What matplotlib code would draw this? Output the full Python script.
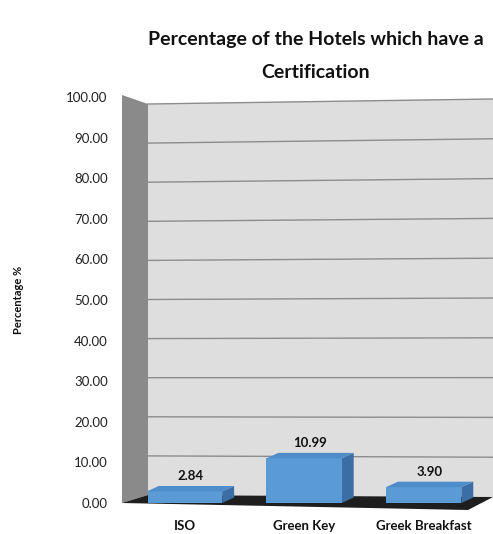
import matplotlib
matplotlib.use('Agg')
import matplotlib.pyplot as plt
from matplotlib.patches import Polygon

plt.rcParams['font.family'] = ['Lato', 'DejaVu Sans']

# data
categories = ['ISO', 'Green Key', 'Greek Breakfast']
values = [2.84, 10.99, 3.90]
y_ticks = [0, 10, 20, 30, 40, 50, 60, 70, 80, 90, 100]

W, H = 493, 534
fig = plt.figure(figsize=(W / 100, H / 100), dpi=100)


def fp(x, y):
    # figure pixel -> figure fraction
    return (x / W, 1 - y / H)


def deco(pts, color, z=-2):
    fig.add_artist(Polygon([fp(*p) for p in pts], closed=True, facecolor=color,
                           edgecolor='none', transform=fig.transFigure, zorder=z))


# back wall, side wall, floor (fake 3d)
deco([(148, 104), (493, 99), (493, 497), (148, 495)], '#dedede')
deco([(122, 95), (148, 104), (148, 495), (122, 503)], '#8a8a8a')
for t in y_ticks[1:]:
    y0 = 495 - 3.91 * t
    y1 = 497 - 3.98 * t
    fig.add_artist(plt.Line2D([148 / W, 493 / W], [1 - y0 / H, 1 - y1 / H], color='#8c8c8c',
                              lw=1.0, transform=fig.transFigure, zorder=-1))
deco([(122, 503), (148, 495), (493, 497), (468, 510)], '#1e1e1e', z=-1)

ax = fig.add_axes([148 / W, 1 - 503 / H, 345 / W, (503 - 97) / H])
ax.set_xlim(-0.305, 2.58)
ax.set_ylim(0, 100)
ax.patch.set_visible(False)
for s in ax.spines.values():
    s.set_visible(False)

x = list(range(len(categories)))
w = 0.63
dx, dy = 0.10, 1.35
front = '#5b9bd5'
top = '#4f8dca'
side = '#3b6ea5'

ax.bar(x, values, width=w, color=front, edgecolor='none', zorder=3)
for xi, v in zip(x, values):
    ax.add_patch(Polygon([(xi - w / 2, v), (xi + w / 2, v), (xi + w / 2 + dx, v + dy),
                          (xi - w / 2 + dx, v + dy)], facecolor=top, edgecolor='none',
                         zorder=3, clip_on=False))
    ax.add_patch(Polygon([(xi + w / 2, 0), (xi + w / 2, v), (xi + w / 2 + dx, v + dy),
                          (xi + w / 2 + dx, dy)], facecolor=side, edgecolor='none',
                         zorder=2, clip_on=False))
    ax.text(xi + dx / 2, v + dy + 1.0, f'{v:.2f}', ha='center', va='bottom',
            fontsize=9.5, fontweight='bold', color='#111111')

ax.set_yticks(y_ticks)
ax.set_yticklabels([f'{t:.2f}' for t in y_ticks])
ax.tick_params(axis='y', length=0, pad=29, labelsize=9.5, labelcolor='#222222')
ax.set_xticks(x)
ax.set_xticklabels(categories, fontweight='bold')
ax.tick_params(axis='x', length=0, pad=12, labelsize=9.5, labelcolor='#111111')

fig.text(18 / W, 1 - 300 / H, 'Percentage %', rotation=90, ha='center', va='center',
         fontsize=8, fontweight='bold', color='#111111')
fig.text(316 / W, 1 - 40 / H, 'Percentage of the Hotels which have a',
         ha='center', va='center', fontsize=14, fontweight='bold', color='#111111')
fig.text(316 / W, 1 - 73 / H, 'Certification',
         ha='center', va='center', fontsize=14, fontweight='bold', color='#111111')

fig.savefig('out.png', dpi=100)
